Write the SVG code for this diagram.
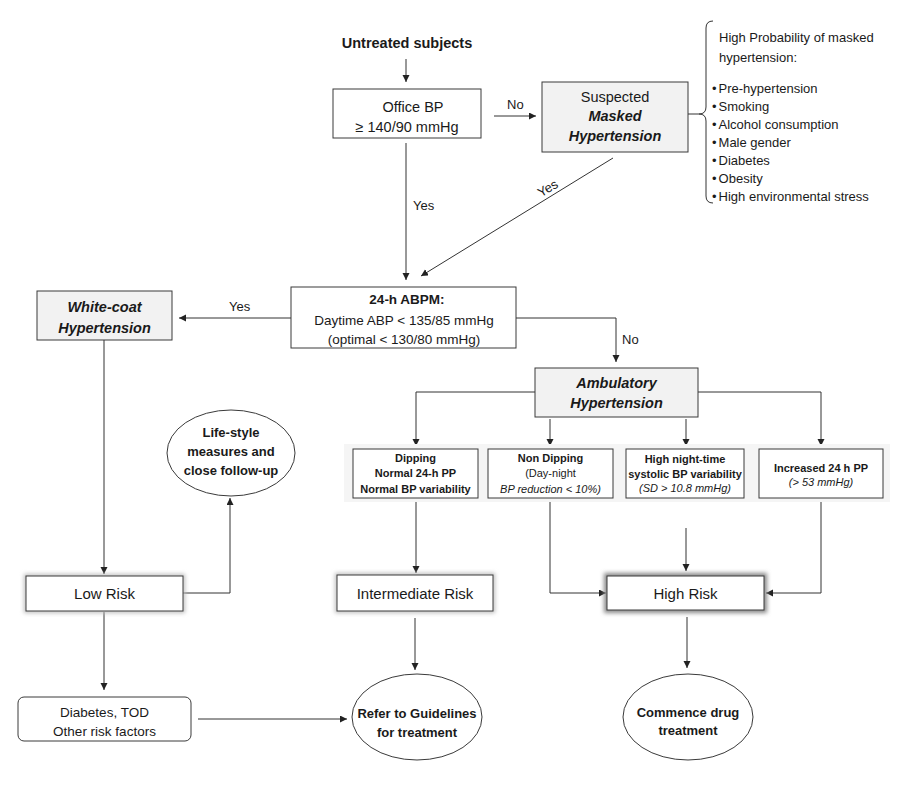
<svg xmlns="http://www.w3.org/2000/svg" width="911" height="785" viewBox="0 0 911 785">
<defs>
<marker id="ah" markerUnits="userSpaceOnUse" markerWidth="8" markerHeight="8" refX="7" refY="3.5" orient="auto">
<path d="M0,0 L7,3.5 L0,7 z" fill="#222"/>
</marker>
<filter id="blur" x="-20%" y="-50%" width="140%" height="200%"><feGaussianBlur stdDeviation="2"/></filter>
<style>
text{font-family:"Liberation Sans",Arial,sans-serif;fill:#1a1a1a}
.c{text-anchor:middle}
.b{font-weight:bold}
.i{font-style:italic}
.s15{font-size:15px}
.s145{font-size:14.5px}
.s135{font-size:13.5px}
.s13{font-size:13px}
.s11{font-size:11px}
.box{fill:#fff;stroke:#3a3a3a;stroke-width:1}
.gbox{fill:#f2f2f2;stroke:#3a3a3a;stroke-width:1}
.ln{fill:none;stroke:#333;stroke-width:1}
.ar{fill:none;stroke:#333;stroke-width:1;marker-end:url(#ah)}
</style>
</defs>
<rect width="911" height="785" fill="#fff"/>

<g id="connectors">
<line class="ar" x1="406" y1="59" x2="406" y2="82"/>
<line class="ar" x1="494" y1="116" x2="536" y2="116"/>
<line class="ln" x1="688" y1="114" x2="699" y2="114"/>
<line class="ar" x1="406" y1="143" x2="406" y2="280"/>
<line class="ar" x1="613" y1="158" x2="421" y2="276"/>
<line class="ar" x1="291" y1="318" x2="179" y2="318"/>
<polyline class="ar" points="516,318 616,318 616,362"/>
<line class="ar" x1="104" y1="340" x2="104" y2="574"/>
<polyline class="ar" points="183,593 230,593 230,498"/>
<line class="ar" x1="104" y1="612" x2="104" y2="690"/>
<line class="ar" x1="198" y1="719" x2="347" y2="719"/>
<polyline class="ar" points="535,392 416,392 416,446"/>
<line class="ar" x1="550" y1="419" x2="550" y2="446"/>
<line class="ar" x1="686" y1="419" x2="686" y2="446"/>
<polyline class="ar" points="698,392 821,392 821,446"/>
<line class="ar" x1="416" y1="498" x2="416" y2="573"/>
<polyline class="ar" points="550,498 550,593 606,593"/>
<line class="ar" x1="686" y1="528" x2="686" y2="571"/>
<polyline class="ar" points="821,498 821,593 766,593"/>
<line class="ar" x1="415" y1="618" x2="415" y2="670"/>
<line class="ar" x1="687" y1="617" x2="687" y2="668"/>
<text class="s13" x="507" y="109">No</text>
<text class="s13" x="413" y="210">Yes</text>
<text class="s13 c" x="550" y="192" transform="rotate(-31 550 192)">Yes</text>
<text class="s13" x="229" y="311">Yes</text>
<text class="s13" x="622" y="344">No</text>
</g>

<g id="untreated">
<text class="s145 b c" x="407" y="48">Untreated subjects</text>
</g>

<g id="office">
<rect class="box" x="333" y="89" width="148" height="49"/>
<text class="s145 c" x="413" y="112">Office BP</text>
<text class="s145 c" x="407" y="132">≥ 140/90 mmHg</text>
</g>

<g id="masked">
<rect class="gbox" x="542" y="82" width="146" height="70"/>
<text class="s145 c" x="615" y="102">Suspected</text>
<text class="s145 b i c" x="615" y="121">Masked</text>
<text class="s145 b i c" x="615" y="141">Hypertension</text>
</g>

<g id="probability">
<path class="ln" d="M713,21 Q706,21 706,28 L706,107 Q706,114 699,114 Q706,114 706,121 L706,196 Q706,203 713,203"/>
<text class="s13" x="719" y="42">High Probability of masked</text>
<text class="s13" x="719" y="62">hypertension:</text>
<text class="s13" x="712" y="93">•<tspan dx="2">Pre-hypertension</tspan></text>
<text class="s13" x="712" y="111">•<tspan dx="2">Smoking</tspan></text>
<text class="s13" x="712" y="129">•<tspan dx="2">Alcohol consumption</tspan></text>
<text class="s13" x="712" y="147">•<tspan dx="2">Male gender</tspan></text>
<text class="s13" x="712" y="165">•<tspan dx="2">Diabetes</tspan></text>
<text class="s13" x="712" y="183">•<tspan dx="2">Obesity</tspan></text>
<text class="s13" x="712" y="201">•<tspan dx="2">High environmental stress</tspan></text>
</g>

<g id="abpm">
<rect class="box" x="291" y="287" width="225" height="61"/>
<text class="s135 b c" x="407" y="304">24-h ABPM:</text>
<text class="s135 c" x="404" y="325">Daytime ABP &lt; 135/85 mmHg</text>
<text class="s135 c" x="404" y="344">(optimal &lt; 130/80 mmHg)</text>
</g>

<g id="whitecoat">
<rect class="gbox" x="37" y="291" width="135" height="49"/>
<text class="s145 b i c" x="104.5" y="312">White-coat</text>
<text class="s145 b i c" x="104.5" y="333">Hypertension</text>
</g>

<g id="ambulatory">
<rect class="gbox" x="535" y="368" width="163" height="49"/>
<text class="s145 b i c" x="616.5" y="388">Ambulatory</text>
<text class="s145 b i c" x="616.5" y="408">Hypertension</text>
</g>

<rect x="344" y="444" width="546" height="58" fill="#f5f5f5"/>

<g id="dipping">
<rect class="box" x="353" y="449" width="125" height="49"/>
<text class="s11 b c" x="415.5" y="462">Dipping</text>
<text class="s11 b c" x="415.5" y="477">Normal 24-h PP</text>
<text class="s11 b c" x="415.5" y="493">Normal BP variability</text>
</g>

<g id="nondipping">
<rect class="box" x="488" y="449" width="125" height="49"/>
<text class="s11 b c" x="550.5" y="462">Non Dipping</text>
<text class="s11 c" x="550.5" y="477">(Day-night</text>
<text class="s11 i c" x="550.5" y="493">BP reduction &lt; 10%)</text>
</g>

<g id="nighttime">
<rect class="box" x="626" y="449" width="118" height="49"/>
<text class="s11 b c" x="685" y="463">High night-time</text>
<text class="s11 b c" x="685" y="478">systolic BP variability</text>
<text class="s11 i c" x="685" y="492">(SD &gt; 10.8 mmHg)</text>
</g>

<g id="increasedpp">
<rect class="box" x="759" y="449" width="124" height="49"/>
<text class="s11 b c" x="821" y="472">Increased 24 h PP</text>
<text class="s11 i c" x="821" y="486">(&gt; 53 mmHg)</text>
</g>

<g id="lifestyle">
<ellipse cx="231" cy="453" rx="64" ry="43" fill="#fff" stroke="#3a3a3a"/>
<text class="s13 b c" x="231" y="437">Life-style</text>
<text class="s13 b c" x="231" y="456">measures and</text>
<text class="s13 b c" x="231" y="475">close follow-up</text>
</g>

<g id="lowrisk">
<rect x="26" y="576" width="157" height="35" fill="none" stroke="#bbb" stroke-width="4" filter="url(#blur)"/>
<rect class="box" x="26" y="576" width="157" height="35"/>
<text class="s15 c" x="104.5" y="599">Low Risk</text>
</g>

<g id="intermediate">
<rect x="337" y="575" width="156" height="36" fill="none" stroke="#bbb" stroke-width="4" filter="url(#blur)"/>
<rect class="box" x="337" y="575" width="156" height="36"/>
<text class="s15 c" x="415" y="599">Intermediate Risk</text>
</g>

<g id="highrisk">
<rect x="607" y="576" width="157" height="34" fill="none" stroke="#888" stroke-width="6" filter="url(#blur)"/>
<rect class="box" x="607" y="576" width="157" height="34" stroke-width="1.5"/>
<text class="s15 c" x="685.5" y="599">High Risk</text>
</g>

<g id="diabetes">
<rect class="box" x="18" y="697" width="173" height="44" rx="6"/>
<text class="s135 c" x="104.5" y="717">Diabetes, TOD</text>
<text class="s135 c" x="104.5" y="736">Other risk factors</text>
</g>

<g id="refer">
<ellipse cx="417" cy="717" rx="65" ry="43" fill="#fff" stroke="#3a3a3a"/>
<text class="s13 b c" x="417" y="718">Refer to Guidelines</text>
<text class="s13 b c" x="417" y="737">for treatment</text>
</g>

<g id="commence">
<ellipse cx="688" cy="717" rx="65" ry="43" fill="#fff" stroke="#3a3a3a"/>
<text class="s13 b c" x="688" y="717">Commence drug</text>
<text class="s13 b c" x="688" y="735">treatment</text>
</g>
</svg>
